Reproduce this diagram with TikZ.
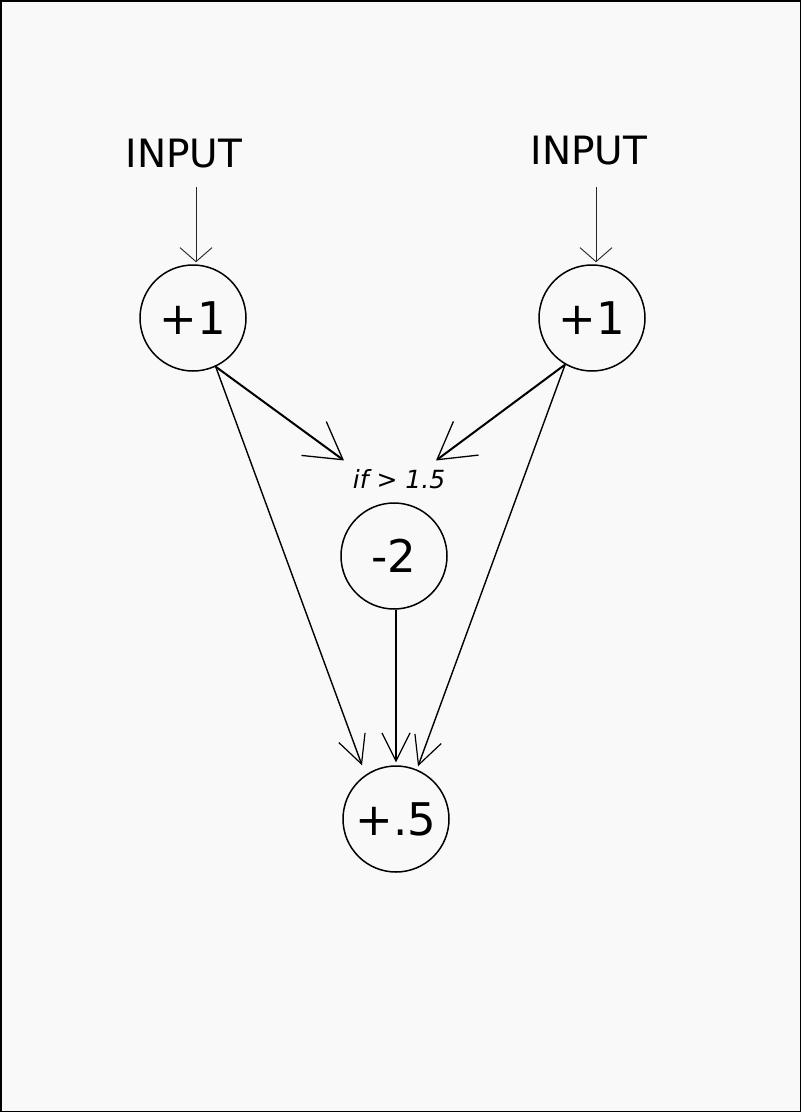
\documentclass[tikz,border=0pt]{standalone}
\usepackage{fontspec}
\setmainfont{DejaVu Sans}
\usetikzlibrary{arrows.meta}
\definecolor{paper}{HTML}{F9F9F9}
\tikzset{
  neuron/.style = {circle, draw, line width=1.5pt, minimum size=106pt,
                   inner sep=0pt, font=\fontsize{45}{54}\selectfont},
  inarrow/.style = {line width=0.9pt, draw=black!85,
                    -{Straight Barb[length=14pt,width=32pt]}},
  condarrow/.style = {line width=2pt,
                      -{Straight Barb[length=36pt,width=42pt,line width=1.3pt]}},
  sumarrow/.style = {line width=1.4pt,
                     -{Straight Barb[length=28pt,width=28pt,line width=1.2pt]}}
}

\begin{document}
\begin{tikzpicture}[x=1pt,y=-1pt]
	\useasboundingbox (0,0) rectangle (801,1112);
	% Paper
	\fill[paper, draw=black, line width=1.5pt] (0.75,0.75) rectangle (800.25,1111.25);

	% Inputs
	\node[anchor=base, font=\fontsize{39}{47}\selectfont] (inL) at (184,167) {INPUT};
	\node[anchor=base, font=\fontsize{39}{47}\selectfont] (inR) at (589,164) {INPUT};

	% Neurons
	\node[neuron] (lin) at (193,318) {+1};
	\node[neuron] (rin) at (592,318) {+1};
	\node[neuron] (neg) at (394,556) {-2};
	\node[neuron] (sum) at (396,819) {+.5};

	% Condition
	\node[anchor=base, font=\fontsize{25}{30}\selectfont\itshape] (cond) at (399,488) {if > 1.5};

	% Input arrows
	\draw[inarrow] ([xshift=12pt,yshift=-20pt]inL.base) -- ([xshift=3pt,yshift=2pt]lin.north);
	\draw[inarrow] ([xshift=7pt,yshift=-23pt]inR.base) -- ([xshift=4pt,yshift=2pt]rin.north);

	% To the -2 neuron
	\draw[condarrow] (lin.-65) -- ([xshift=-55pt,yshift=5pt]cond.north);
	\draw[condarrow] (rin.-120) -- ([xshift=37pt,yshift=5pt]cond.north);

	% To the output
	\draw[sumarrow] (lin.-65) -- ([xshift=-34pt]sum.north);
	\draw[sumarrow] ([xshift=2pt]neg.south) -- ([yshift=3pt]sum.north);
	\draw[sumarrow] (rin.-120) -- ([xshift=22pt,yshift=-1pt]sum.north);
\end{tikzpicture}
\end{document}
